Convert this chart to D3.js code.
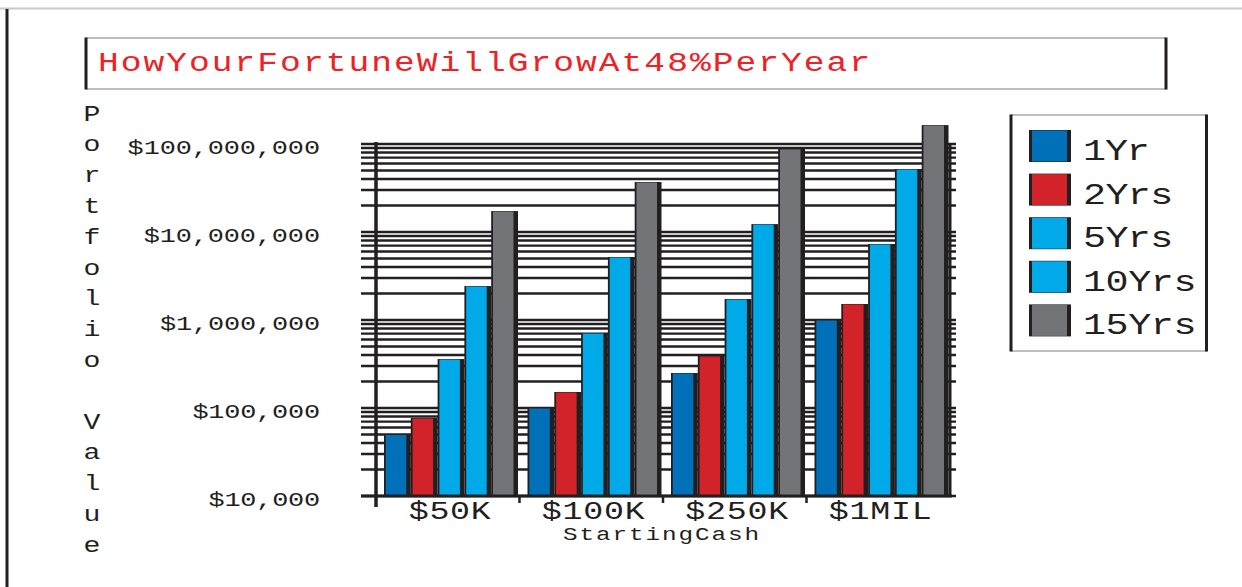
<!DOCTYPE html>
<html lang="en">
<head>
<meta charset="UTF-8">
<title>How Your Fortune Will Grow</title>
<script src="https://d3js.org/d3.v7.min.js"></script>
<style>
  html, body { margin: 0; padding: 0; background: #fff; }
  svg { display: block; }
  text { font-family: "Liberation Mono", "DejaVu Sans Mono", monospace; fill: #231f20; }
</style>
</head>
<body>
<div id="chart"></div>
<script>
  // data
  const categories = ["$50K", "$100K", "$250K", "$1MIL"];
  const seriesNames = ["1Yr", "2Yrs", "5Yrs", "10Yrs", "15Yrs"];
  const seriesColors = ["#0071b8", "#d2232a", "#00aae9", "#00aae9", "#737477"];
  const yr1 = [50000, 100000, 250000, 1000000];
  const yr2 = [77000, 152000, 390000, 1520000];
  const yr5 = [360000, 710000, 1730000, 7300000];
  const yr10 = [2430000, 5200000, 12300000, 52000000];
  const yr15 = [17300000, 37000000, 88000000, 164000000];
  const yTickValues = [1e4, 1e5, 1e6, 1e7, 1e8];
  const yTickLabels = ["$10,000", "$100,000", "$1,000,000", "$10,000,000", "$100,000,000"];
  const titleText = "HowYourFortuneWillGrowAt48%PerYear";
  const yTitle = "Portfolio Value";
  const xTitle = "StartingCash";

  const dark = "#231f20";
  const width = 1242, height = 587;
  const plot = {left: 376, right: 950, top: 144, bottom: 496};
  const sx = 1.28; // glyphs in the original are wide (courier-ish), stretch a bit

  const allSeries = [yr1, yr2, yr5, yr10, yr15];
  const rows = categories.map(function(c, i) {
    return {cat: c, vals: seriesNames.map(function(s, j) { return {name: s, value: allSeries[j][i], color: seriesColors[j]}; })};
  });

  // place text stretched horizontally, len = wanted on-screen width
  function wide(sel, x, y, len) {
    return sel
      .attr("transform", function(d, i) {
        let xx = typeof x === "function" ? x(d, i) : x;
        let yy = typeof y === "function" ? y(d, i) : y;
        return "translate(" + xx + "," + yy + ") scale(" + sx + ",1)";
      })
      .attr("textLength", function(d, i) { return (typeof len === "function" ? len(d, i) : len) / sx; })
      .attr("lengthAdjust", "spacing");
  }

  let svg = d3.select("#chart").append("svg")
      .attr("width", width)
      .attr("height", height);

  // page frame
  svg.append("line").attr("x1", 0).attr("x2", width).attr("y1", 8.5).attr("y2", 8.5)
      .attr("stroke", "#c8c8c8").attr("stroke-width", 2);
  svg.append("line").attr("x1", 7).attr("x2", 7).attr("y1", 9).attr("y2", height)
      .attr("stroke", dark).attr("stroke-width", 3);

  // title box
  let tbox = svg.append("g");
  tbox.append("line").attr("x1", 86).attr("x2", 1166).attr("y1", 38).attr("y2", 38).attr("stroke", "#a8a8a8").attr("stroke-width", 1.5);
  tbox.append("line").attr("x1", 86).attr("x2", 1166).attr("y1", 89).attr("y2", 89).attr("stroke", "#a8a8a8").attr("stroke-width", 1.5);
  tbox.append("line").attr("x1", 86).attr("x2", 86).attr("y1", 37.5).attr("y2", 89.5).attr("stroke", dark).attr("stroke-width", 3);
  tbox.append("line").attr("x1", 1166).attr("x2", 1166).attr("y1", 37.5).attr("y2", 89.5).attr("stroke", dark).attr("stroke-width", 3);
  wide(tbox.append("text"), 98, 71, 772)
      .style("font-size", "27px")
      .style("fill", "#ec2227")
      .text(titleText);

  let x0 = d3.scaleBand().domain(categories).range([plot.left, plot.right]);
  let x1 = d3.scaleBand().domain(seriesNames).range([8, 142]);
  let y = d3.scaleLog().domain([1e4, 1e8]).range([plot.bottom, plot.top]);

  // log gridlines, with small ticks sticking out both sides
  svg.append("g").selectAll("line")
    .data(y.ticks())
    .enter()
    .append("line")
      .attr("x1", plot.left - 15)
      .attr("x2", plot.right + 6)
      .attr("y1", function(d) { return y(d); })
      .attr("y2", function(d) { return y(d); })
      .attr("stroke", dark)
      .attr("stroke-width", 2.4);

  // bars: dark body, coloured face
  let groups = svg.append("g").selectAll("g")
    .data(rows)
    .enter()
    .append("g")
      .attr("transform", function(d) { return "translate(" + x0(d.cat) + ",0)"; });

  groups.selectAll("rect.side")
    .data(function(d) { return d.vals; })
    .enter()
    .append("rect")
      .attr("class", "side")
      .attr("x", function(d) { return x1(d.name); })
      .attr("y", function(d) { return y(d.value); })
      .attr("width", x1.bandwidth())
      .attr("height", function(d) { return plot.bottom - y(d.value); })
      .attr("fill", dark);

  groups.selectAll("rect.face")
    .data(function(d) { return d.vals; })
    .enter()
    .append("rect")
      .attr("class", "face")
      .attr("x", function(d) { return x1(d.name) + 1.8; })
      .attr("y", function(d) { return y(d.value) + 0.5; })
      .attr("width", x1.bandwidth() - 6.3)
      .attr("height", function(d) { return plot.bottom - y(d.value) - 0.5; })
      .attr("fill", function(d) { return d.color; });

  // axes lines
  svg.append("line").attr("x1", plot.left).attr("x2", plot.left).attr("y1", 142).attr("y2", 507)
      .attr("stroke", dark).attr("stroke-width", 3.5);
  svg.append("line").attr("x1", plot.right).attr("x2", plot.right).attr("y1", 143).attr("y2", plot.bottom)
      .attr("stroke", dark).attr("stroke-width", 3);
  svg.append("line").attr("x1", plot.left - 15).attr("x2", plot.right + 2).attr("y1", plot.bottom).attr("y2", plot.bottom)
      .attr("stroke", dark).attr("stroke-width", 3);

  // category separators below baseline
  svg.append("g").selectAll("line")
    .data(categories.slice(1))
    .enter()
    .append("line")
      .attr("x1", function(d) { return x0(d); })
      .attr("x2", function(d) { return x0(d); })
      .attr("y1", plot.bottom)
      .attr("y2", plot.bottom + 7)
      .attr("stroke", dark)
      .attr("stroke-width", 2.5);

  // category labels
  wide(svg.append("g").selectAll("text")
    .data(categories)
    .enter()
    .append("text"),
      function(d) { return x0(d) + x0.bandwidth() / 2 + 2; }, 519,
      function(d) { return d.length * 21.2 - 3; })
      .attr("text-anchor", "middle")
      .style("font-size", "26px")
      .text(function(d) { return d; });

  wide(svg.append("text"), 661, 540, 196)
      .attr("text-anchor", "middle")
      .style("font-size", "19px")
      .text(xTitle);

  // y tick labels
  wide(svg.append("g").selectAll("text")
    .data(yTickValues)
    .enter()
    .append("text"),
      320, function(d) { return y(d) + 10; },
      function(d, i) { return yTickLabels[i].length * 16.2 - 2; })
      .attr("text-anchor", "end")
      .style("font-size", "21px")
      .text(function(d, i) { return yTickLabels[i]; });

  // stacked y title
  wide(svg.append("g").selectAll("text")
    .data(yTitle.split(""))
    .enter()
    .append("text"),
      92, function(d, i) { return 120.5 + i * 30.8; }, 13)
      .attr("text-anchor", "middle")
      .attr("textLength", null)
      .style("font-size", "22px")
      .text(function(d) { return d; });

  // legend
  let legend = svg.append("g");
  legend.append("line").attr("x1", 1011).attr("x2", 1207).attr("y1", 115).attr("y2", 115).attr("stroke", "#a8a8a8").attr("stroke-width", 1.5);
  legend.append("line").attr("x1", 1011).attr("x2", 1207).attr("y1", 351).attr("y2", 351).attr("stroke", "#a8a8a8").attr("stroke-width", 1.5);
  legend.append("line").attr("x1", 1011).attr("x2", 1011).attr("y1", 114.5).attr("y2", 351.5).attr("stroke", dark).attr("stroke-width", 3);
  legend.append("line").attr("x1", 1206.5).attr("x2", 1206.5).attr("y1", 114.5).attr("y2", 351.5).attr("stroke", dark).attr("stroke-width", 3);

  let items = legend.selectAll("g.item")
    .data(seriesNames)
    .enter()
    .append("g")
      .attr("class", "item")
      .attr("transform", function(d, i) { return "translate(1029," + (130 + i * 43.6) + ")"; });

  items.append("rect")
      .attr("width", 42).attr("height", 32)
      .attr("fill", dark);
  items.append("rect")
      .attr("x", 3).attr("y", 0.5)
      .attr("width", 35).attr("height", 31)
      .attr("fill", function(d, i) { return seriesColors[i]; });
  wide(items.append("text"), 54, 30, function(d) { return d.length * 23.3 - 3; })
      .style("font-size", "30px")
      .text(function(d) { return d; });
</script>
</body>
</html>
